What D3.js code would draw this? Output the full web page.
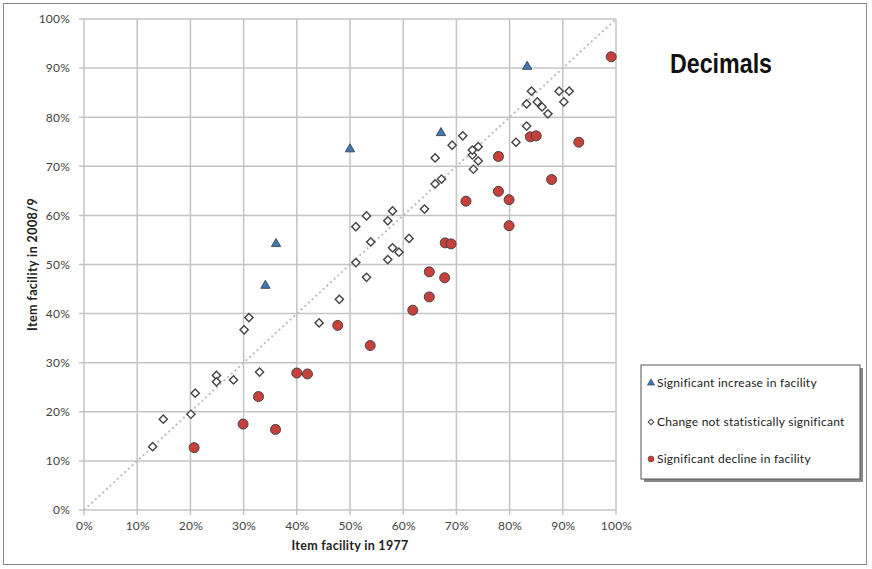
<!DOCTYPE html>
<html><head><meta charset="utf-8">
<script src="https://cdn.jsdelivr.net/npm/d3@7"></script>
<style>
body{margin:0;background:#fff;}
text{font-family:"Lato","Open Sans",sans-serif;}
</style></head>
<body><svg id="c" width="872" height="569"></svg>
<script>
const ticks = [0,0.1,0.2,0.3,0.4,0.5,0.6,0.7,0.8,0.9,1.0];
const increaseX = [0.833,0.671,0.500,0.361,0.341];
const increaseY = [0.903,0.768,0.735,0.542,0.457];
const noChangeX = [0.129,0.149,0.201,0.209,0.249,0.249,0.281,0.330,0.301,0.310,0.442,0.480,0.531,0.511,0.571,0.592,0.580,0.539,0.611,0.511,0.571,0.531,0.580,0.640,0.660,0.672,0.732,0.741,0.660,0.730,0.730,0.741,0.692,0.812,0.712,0.832,0.872,0.861,0.832,0.852,0.902,0.841,0.893,0.912];
const noChangeY = [0.129,0.185,0.195,0.238,0.274,0.261,0.265,0.281,0.367,0.392,0.381,0.429,0.474,0.504,0.510,0.525,0.534,0.546,0.553,0.577,0.589,0.599,0.609,0.613,0.664,0.674,0.694,0.711,0.717,0.723,0.733,0.740,0.743,0.749,0.762,0.782,0.807,0.821,0.827,0.831,0.831,0.853,0.853,0.853];
const declineX = [0.207,0.299,0.360,0.328,0.400,0.420,0.538,0.477,0.618,0.649,0.678,0.649,0.679,0.690,0.799,0.718,0.799,0.779,0.879,0.779,0.930,0.839,0.850,0.991];
const declineY = [0.127,0.175,0.164,0.231,0.279,0.277,0.335,0.376,0.407,0.434,0.473,0.485,0.544,0.542,0.579,0.629,0.632,0.649,0.673,0.720,0.749,0.760,0.762,0.923];
const legendLabels = ["Significant increase in facility","Change not statistically significant","Significant decline in facility"];

const svg = d3.select("#c");
svg.append("rect").attr("x",3.5).attr("y",3.5).attr("width",863).attr("height",561).attr("fill","none").attr("stroke","#888").attr("stroke-width",1);

const L=84,R=616,T=19,B=510;
const x = d3.scaleLinear().domain([0,1]).range([L,R]);
const y = d3.scaleLinear().domain([0,1]).range([B,T]);
const fmt = d3.format(".0%");

// gridlines
const g = svg.append("g");
g.selectAll(".vg").data(ticks).join("line").attr("x1",d=>x(d)).attr("x2",d=>x(d)).attr("y1",T).attr("y2",B+5).attr("stroke","#c4c4c4").attr("stroke-width",1.5);
g.selectAll(".hg").data(ticks).join("line").attr("y1",d=>y(d)).attr("y2",d=>y(d)).attr("x1",L-5).attr("x2",R).attr("stroke","#c4c4c4").attr("stroke-width",1.5);

// axes
const xa = svg.append("g").attr("transform",`translate(0,${B})`).call(d3.axisBottom(x).tickValues(ticks).tickFormat(fmt).tickSize(0).tickPadding(11));
const ya = svg.append("g").attr("transform",`translate(${L},0)`).call(d3.axisLeft(y).tickValues(ticks).tickFormat(fmt).tickSize(0).tickPadding(14));
[xa,ya].forEach(a=>{a.select(".domain").remove();a.selectAll("text").style("font-size","12px").style("letter-spacing","0.2px").attr("fill","#444");});

// diagonal
svg.append("line").attr("x1",x(0)).attr("y1",y(0)).attr("x2",x(1)).attr("y2",y(1)).attr("stroke","#bdbdbd").attr("stroke-width",2).attr("stroke-dasharray","2,3");

// axis titles
svg.append("text").attr("x",(L+R)/2).attr("y",550).attr("text-anchor","middle").style("font-size","12.5px").style("letter-spacing","0.3px").attr("font-weight","bold").attr("fill","#222").text("Item facility in 1977");
svg.append("text").attr("transform",`translate(37,${(T+B)/2}) rotate(-90)`).attr("text-anchor","middle").style("font-size","12.5px").style("letter-spacing","0.4px").attr("font-weight","bold").attr("fill","#222").text("Item facility in 2008/9");

// points
const diamond = d3.symbol().type(d3.symbolSquare).size(34);
const tri = d3.symbol().type(d3.symbolTriangle).size(38);
svg.append("g").selectAll("path").data(noChangeX.map((v,i)=>[v,noChangeY[i]])).join("path")
  .attr("d",diamond).attr("transform",d=>`translate(${x(d[0])},${y(d[1])}) rotate(45)`).attr("fill","#fff").attr("stroke","#444").attr("stroke-width",1.4);
svg.append("g").selectAll("circle").data(declineX.map((v,i)=>[v,declineY[i]])).join("circle")
  .attr("cx",d=>x(d[0])).attr("cy",d=>y(d[1])).attr("r",5).attr("fill","#c7403a").attr("stroke","#444").attr("stroke-width",1);
svg.append("g").selectAll("path").data(increaseX.map((v,i)=>[v,increaseY[i]])).join("path")
  .attr("d",tri).attr("transform",d=>`translate(${x(d[0])},${y(d[1])})`).attr("fill","#3f78b8").attr("stroke","#333").attr("stroke-width",0.8);

// title
svg.append("text").attr("x",670).attr("y",73).style("font-family","'Liberation Sans Narrow','Liberation Sans',Arial,sans-serif").style("font-weight","bold").style("font-size","27px").attr("textLength",102).attr("lengthAdjust","spacingAndGlyphs").attr("fill","#111").text("Decimals");

// legend
const lg = svg.append("g");
lg.append("rect").attr("x",644).attr("y",368).attr("width",219).attr("height",114).attr("fill","#888");
lg.append("rect").attr("x",641).attr("y",365).attr("width",219).attr("height",114).attr("fill","#fff").attr("stroke","#555").attr("stroke-width",1);
const ly=[383,422,459];
lg.append("path").attr("d",d3.symbol().type(d3.symbolTriangle).size(22)).attr("transform",`translate(651,${ly[0]})`).attr("fill","#3f78b8").attr("stroke","#333").attr("stroke-width",0.6);
lg.append("path").attr("d",d3.symbol().type(d3.symbolSquare).size(16)).attr("transform",`translate(651,${ly[1]}) rotate(45)`).attr("fill","#fff").attr("stroke","#444").attr("stroke-width",1);
lg.append("circle").attr("cx",651).attr("cy",ly[2]).attr("r",3).attr("fill","#c7403a").attr("stroke","#444").attr("stroke-width",0.6);
lg.selectAll(".lt").data(legendLabels).join("text").attr("x",657).attr("y",(d,i)=>ly[i]+4).style("font-size","12px").style("letter-spacing","0.25px").attr("fill","#222").text(d=>d);
</script></body></html>
